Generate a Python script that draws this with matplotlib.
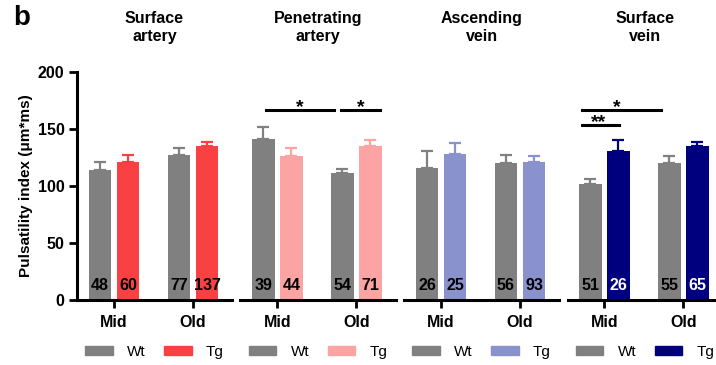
import numpy as np
import matplotlib
matplotlib.use("Agg")
import matplotlib.pyplot as plt
from matplotlib.patches import Patch

plt.rcParams['font.family'] = ['Liberation Sans', 'DejaVu Sans']

# data
panels = ["Surface\nartery", "Penetrating\nartery", "Ascending\nvein", "Surface\nvein"]
groups = ["Mid", "Old"]
wt_mean = [[114, 127], [141, 111], [116, 120], [102, 120]]
wt_err = [[7, 6], [11, 4], [15, 7], [4, 6]]
tg_mean = [[121, 135], [126, 135], [128, 121], [131, 135]]
tg_err = [[6, 4], [7, 5], [10, 5], [9, 4]]
wt_n = [[48, 77], [39, 54], [26, 56], [51, 55]]
tg_n = [[60, 137], [44, 71], [25, 93], [26, 65]]
tg_colors = ["#F94144", "#FCA3A3", "#8A92CE", "#00007F"]
wt_color = "#808080"

fig = plt.figure(figsize=(7.16, 3.65), dpi=100)

W, H = 716, 365
bottom = 1 - 300/H
height = (300 - 72)/H
lefts = [77, 240.5, 404, 567.5]
pw = 155
bw = 0.29
off = 0.177
x = np.arange(len(groups))

for i in range(4):
    ax = fig.add_axes([lefts[i]/W, bottom, pw/W, height])
    ax.set_xlim(-0.468, -0.468 + pw/79)
    ax.set_ylim(0, 200)
    c = tg_colors[i]
    ax.errorbar(x - off, wt_mean[i], yerr=[[0, 0], wt_err[i]], fmt='none',
                ecolor=wt_color, elinewidth=1.6, capsize=4.3, capthick=1.6, zorder=1)
    ax.errorbar(x + off, tg_mean[i], yerr=[[0, 0], tg_err[i]], fmt='none',
                ecolor=c, elinewidth=1.6, capsize=4.3, capthick=1.6, zorder=1)
    ax.bar(x - off, wt_mean[i], bw, color=wt_color, zorder=2)
    ax.bar(x + off, tg_mean[i], bw, color=c, zorder=2)
    for j in range(2):
        ax.text(x[j] - off, 13, str(wt_n[i][j]), ha='center', va='center',
                fontsize=11.5, fontweight='bold', color='black', zorder=3)
        ax.text(x[j] + off, 13, str(tg_n[i][j]), ha='center', va='center',
                fontsize=11.5, fontweight='bold',
                color='white' if i == 3 else 'black', zorder=3)

    ax.set_title(panels[i], fontsize=11.5, fontweight='bold', y=1.0, pad=22,
                 linespacing=1.25)
    for s in ['top', 'right']:
        ax.spines[s].set_visible(False)
    ax.spines['bottom'].set_linewidth(2.2)
    ax.set_xticks(x)
    ax.set_xticklabels(groups, fontsize=11.5, fontweight='bold')
    ax.tick_params(axis='x', length=6, width=2, pad=5)
    if i == 0:
        ax.spines['left'].set_linewidth(2.2)
        ax.set_yticks([0, 50, 100, 150, 200])
        ax.tick_params(axis='y', length=6, width=2, pad=3, labelsize=11.5)
        for lab in ax.get_yticklabels():
            lab.set_fontweight('bold')
        ax.set_ylabel("Pulsatility index (\u03bcm*ms)", fontsize=11,
                      fontweight='bold', labelpad=3)
    else:
        ax.spines['left'].set_visible(False)
        ax.set_yticks([])

    handles = [Patch(color=wt_color), Patch(color=c)]
    ax.legend(handles, ["Wt", "Tg"], loc='center', bbox_to_anchor=(0.5, -0.228),
              ncol=2, frameon=False, fontsize=11, handlelength=1.8,
              handleheight=0.55, handletextpad=0.95, columnspacing=1.2)

    if i == 1:
        ax.plot([-0.15, 0.71], [166.7, 166.7], color='black', lw=2.2, clip_on=False)
        ax.text(0.28, 164.5, "*", ha='center', va='baseline', fontsize=14,
                fontweight='bold')
        ax.plot([0.80, 1.30], [166.7, 166.7], color='black', lw=2.2, clip_on=False)
        ax.text(1.05, 164.5, "*", ha='center', va='baseline', fontsize=14,
                fontweight='bold')
    if i == 3:
        ax.plot([-0.29, 0.72], [166.7, 166.7], color='black', lw=2.2, clip_on=False)
        ax.text(0.16, 164.5, "*", ha='center', va='baseline', fontsize=14,
                fontweight='bold')
        ax.plot([-0.28, 0.19], [153.5, 153.5], color='black', lw=2.2, clip_on=False)
        ax.text(-0.08, 151.3, "**", ha='center', va='baseline', fontsize=14,
                fontweight='bold')

fig.text(13/W, 1 - 5/H, "b", fontsize=20, fontweight='bold', ha='left', va='top')

fig.savefig("out.png", dpi=100)
